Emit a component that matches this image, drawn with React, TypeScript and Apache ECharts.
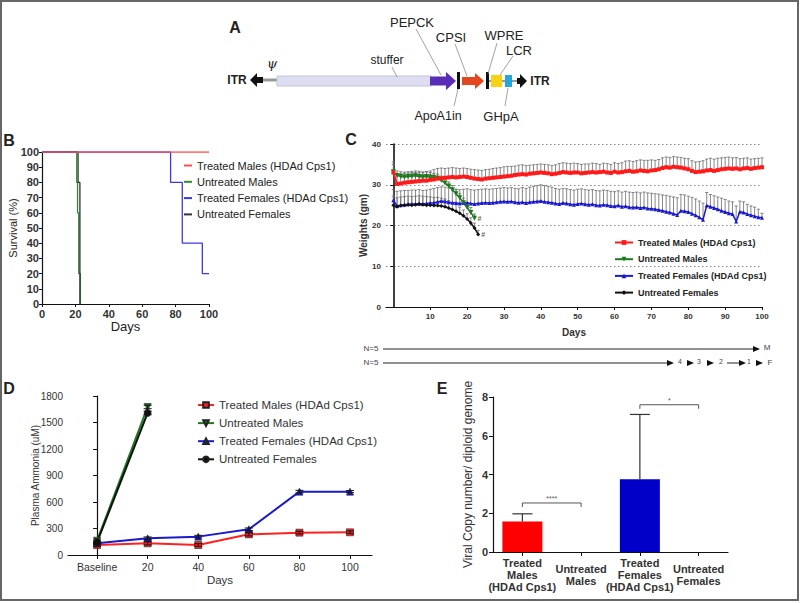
import React, { useEffect, useRef } from 'react';
import * as echarts from 'echarts';

const FONT = '"Liberation Sans", Arial, Helvetica, sans-serif';

const groupNames = ['Treated Males (HDAd Cps1)', 'Untreated Males', 'Treated Females (HDAd Cps1)', 'Untreated Females'];

// ---------- Panel B: survival (%) step curves, [day, percent] ----------
const survTreatedMales = [[0, 100], [100, 100]];
const survUntreatedMales = [[0, 100], [20.8, 80], [21.3, 60], [22, 20], [23, 0]];
const survTreatedFemales = [[0, 100], [77, 80], [84, 40], [96, 20], [100, 20]];
const survUntreatedFemales = [[0, 100], [21.6, 80], [22.7, 0]];

// ---------- Panel C: weights (gm), one value per day from day 0 ----------
const wTreatedMales = [
  33.0, 30.2, 30.3, 30.5, 30.6, 30.7, 30.8, 30.9, 31.0, 31.0, 31.2,
  31.3, 31.5, 31.6, 31.7, 31.8, 31.9, 31.8, 31.9, 32.0, 31.9,
  31.7, 31.5, 31.4, 31.3, 31.5, 31.6, 31.7, 31.8, 31.9, 32.0,
  32.1, 32.2, 32.4, 32.5, 32.6, 32.5, 32.7, 32.8, 32.9, 33.0,
  32.9, 32.8, 32.6, 32.7, 32.9, 33.1, 33.0, 32.9, 33.0, 33.0,
  32.8, 32.9, 33.0, 33.1, 33.0, 33.1, 33.2, 33.0, 32.9, 33.2,
  33.0, 33.1, 33.3, 33.4, 33.2, 33.3, 33.5, 33.4, 33.3, 33.5,
  33.6, 33.8, 34.1, 34.3, 34.2, 34.4, 34.3, 34.2, 34.0, 33.8,
  33.4, 33.1, 33.2, 33.3, 33.5, 33.6, 33.4, 33.6, 33.8, 33.9,
  34.0, 33.9, 34.0, 33.8, 34.0, 34.1, 33.9, 34.1, 34.2, 34.3,
];
const wTreatedMalesTop = [
  35.0, 32.6, 32.7, 32.8, 32.9, 33.0, 33.0, 33.1, 33.1, 33.2, 33.4,
  33.7, 34.0, 34.1, 34.0, 34.1, 34.2, 34.1, 34.0, 34.1, 34.0,
  33.8, 33.7, 33.6, 33.5, 33.7, 33.8, 34.0, 34.1, 34.2, 34.4,
  34.5, 34.5, 34.6, 34.8, 34.9, 34.7, 34.8, 34.9, 35.0, 35.1,
  35.0, 34.9, 34.7, 34.9, 35.2, 35.4, 35.3, 35.2, 35.3, 35.2,
  35.0, 35.1, 35.1, 35.3, 35.2, 35.0, 35.3, 35.2, 35.0, 35.4,
  35.2, 35.4, 35.8, 35.9, 35.7, 35.9, 36.1, 36.0, 36.0, 36.1,
  36.0, 36.2, 36.6, 36.8, 36.7, 36.9, 36.8, 36.7, 36.5, 36.4,
  35.9, 35.6, 35.7, 35.9, 36.3, 36.5, 36.3, 36.5, 36.6, 36.7,
  36.8, 36.6, 36.7, 36.4, 36.5, 36.6, 36.3, 36.4, 36.5, 36.6,
];
const wUntreatedMales = [
  33.2, 32.3, 32.0, 31.9, 32.0, 32.1, 32.2, 32.0, 31.9, 32.0, 31.9,
  31.8, 31.6, 31.1, 30.4, 29.7, 28.8, 27.8, 26.8, 25.6, 24.4, 23.2, 21.8,
];
const wUntreatedMalesTop = [
  35.6, 33.4, 33.2, 33.1, 33.2, 33.3, 33.4, 33.3, 33.1, 33.2, 33.0,
  32.8, 32.6, 32.1, 31.4, 30.7, 29.8, 28.8, 27.8, 26.7, 25.6, 24.4, 22.8,
];
const wTreatedFemales = [
  26.2, 24.8, 25.0, 25.1, 25.2, 25.3, 25.3, 25.4, 25.3, 25.4, 25.5,
  25.6, 25.8, 26.0, 25.9, 25.7, 25.6, 25.5, 25.4, 25.5, 25.6,
  25.4, 25.3, 25.4, 25.5, 25.6, 25.5, 25.6, 25.7, 25.8, 25.9,
  25.8, 25.9, 25.7, 25.6, 25.7, 25.5, 25.7, 25.8, 25.9, 26.0,
  25.8, 25.7, 25.6, 25.4, 25.3, 25.5, 25.4, 25.2, 25.1, 25.3,
  25.4, 25.2, 25.1, 25.2, 25.0, 24.9, 25.1, 25.0, 24.8, 24.7,
  24.9, 24.6, 24.7, 24.5, 24.4, 24.5, 24.3, 24.4, 24.2, 24.1,
  24.0, 23.8, 23.6, 23.4, 23.2, 22.9, 22.6, 23.6, 23.5, 23.3,
  22.9, 22.5, 22.0, 21.4, 24.9, 24.6, 24.3, 24.0, 23.6, 23.3,
  23.0, 22.8, 21.0, 23.4, 23.2, 22.8, 22.5, 22.3, 22.0, 21.9,
];
const wTreatedFemalesTop = [
  28.8, 28.4, 28.5, 28.6, 28.6, 28.7, 28.7, 28.8, 28.6, 28.7, 28.9,
  29.1, 29.3, 29.5, 29.4, 29.2, 29.0, 28.9, 28.8, 28.9, 29.0,
  28.8, 28.7, 28.8, 28.9, 29.0, 28.9, 29.0, 29.1, 29.2, 29.3,
  29.2, 29.3, 29.1, 29.0, 29.3, 29.1, 29.4, 29.6, 29.8, 30.0,
  29.8, 29.6, 29.4, 29.1, 28.9, 29.1, 29.0, 28.8, 28.7, 28.9,
  29.0, 28.8, 28.7, 28.8, 28.6, 28.5, 28.7, 28.6, 28.4, 28.3,
  28.5, 28.2, 28.4, 28.2, 28.1, 28.2, 28.0, 28.2, 28.0, 27.9,
  27.8, 27.7, 27.5, 27.4, 27.2, 27.0, 26.8, 27.6, 27.5, 27.2,
  26.9, 26.5, 26.0, 25.5, 28.1, 27.6, 27.3, 27.0, 26.7, 26.4,
  26.0, 25.8, 24.8, 26.0, 25.8, 25.2, 24.8, 24.5, 24.0, 23.0,
];
const wUntreatedFemales = [
  25.0, 24.6, 24.9, 25.0, 25.1, 25.0, 25.1, 25.2, 25.1, 25.0, 25.0,
  24.9, 24.9, 24.8, 24.6, 24.3, 23.9, 23.5, 23.0, 22.4, 21.6, 20.6, 19.4, 17.8,
];
const wUntreatedFemalesTop = [
  27.2, 26.8, 27.0, 27.1, 27.2, 27.1, 27.2, 27.3, 27.2, 27.1, 27.0,
  26.9, 26.9, 26.7, 26.5, 26.1, 25.6, 25.1, 24.5, 23.8, 22.9, 21.9, 20.6, 18.8,
];
const weightDayTicks = [10, 20, 30, 40, 50, 60, 70, 80, 90, 100];

// ---------- Panel D: plasma ammonia (uM) ----------
const ammoniaDays = [0, 20, 40, 60, 80, 100];
const ammoniaDayLabels = ['Baseline', '20', '40', '60', '80', '100'];
const nh3TreatedMales = [113, 132, 113, 234, 253, 257];
const nh3UntreatedMales = [162, 1676];
const nh3TreatedFemales = [132, 189, 208, 291, 717, 717];
const nh3UntreatedFemales = [145, 1608];
const nh3TreatedMalesErr = [15, 18, 15, 18, 15, 15];
const nh3UntreatedMalesErr = [18, 20];
const nh3TreatedFemalesErr = [12, 15, 15, 15, 15, 12];
const nh3UntreatedFemalesErr = [15, 20];

// ---------- Panel E: viral copy number ----------
const viralCats = ['Treated\nMales\n(HDAd Cps1)', 'Untreated\nMales', 'Treated\nFemales\n(HDAd Cps1)', 'Untreated\nFemales'];
const viralMeans = [1.57, 0, 3.75, 0];
const viralTop = [1.97, 0, 7.1, 0];
const viralSigPairs = [[0, 1, 2.53], [2, 3, 7.6]];
const viralSigText = ['****', '*'];

const stripPrefix = (name: string) => name.split('|')[1];

function errRender(color: string, cap: number, lw: number, capLow: boolean) {
  return (params: any, api: any) => {
    const x = api.value(0);
    const lo = api.value(1);
    const hi = api.value(2);
    if (!(hi > lo)) return null;
    const a = api.coord([x, lo]);
    const b = api.coord([x, hi]);
    const children: any[] = [
      { type: 'line', shape: { x1: a[0], y1: a[1], x2: b[0], y2: b[1] }, style: { stroke: color, lineWidth: lw } },
      { type: 'line', shape: { x1: b[0] - cap, y1: b[1], x2: b[0] + cap, y2: b[1] }, style: { stroke: color, lineWidth: lw } },
    ];
    if (capLow) {
      children.push({ type: 'line', shape: { x1: a[0] - cap, y1: a[1], x2: a[0] + cap, y2: a[1] }, style: { stroke: color, lineWidth: lw } });
    }
    return { type: 'group', children };
  };
}

export default function App() {
  const ref = useRef<HTMLDivElement>(null);
  useEffect(() => {
    if (!ref.current) return;
    const chart = echarts.init(ref.current, null, { renderer: 'svg' });

    const axisLine = { show: true, lineStyle: { color: '#111', width: 1.2 } };
    const tick = (len: number) => ({ show: true, length: len, inside: false, lineStyle: { color: '#111', width: 1 } });

    const colB = ['#ff5050', '#2e8b2e', '#3a3ae0', '#333333'];
    const colC = ['#ff1a1a', '#1e7a1e', '#1a1acc', '#111111'];
    const colD = ['#ff2020', '#1e7a1e', '#1a1acc', '#111111'];
    const symC = ['rect', 'triangle', 'triangle', 'diamond'];
    const rotC = [0, 180, 0, 0];
    const symD = ['rect', 'triangle', 'triangle', 'circle'];

    const survData = [survTreatedMales, survUntreatedMales, survTreatedFemales, survUntreatedFemales];
    const survOrder = [1, 3, 2, 0];
    const bSeries = survOrder.map((i) => ({
      name: 'B|' + groupNames[i],
      type: 'line',
      xAxisIndex: 0,
      yAxisIndex: 0,
      step: 'end',
      showSymbol: false,
      symbol: 'none',
      data: survData[i],
      lineStyle: { color: colB[i], width: 1.3 },
      itemStyle: { color: colB[i] },
      z: 3 + survOrder.indexOf(i),
    }));

    const wMeans = [wTreatedMales, wUntreatedMales, wTreatedFemales, wUntreatedFemales];
    const wTops = [wTreatedMalesTop, wUntreatedMalesTop, wTreatedFemalesTop, wUntreatedFemalesTop];
    const cErr = [0, 2, 1, 3].map((i) => ({
      name: 'Cerr' + i,
      type: 'custom',
      xAxisIndex: 1,
      yAxisIndex: 1,
      renderItem: errRender('#6a6a6a', 1.6, 0.8, false),
      encode: { x: 0, y: [1, 2] },
      data: wMeans[i].map((v, d) => [d, v, wTops[i][d]]),
      z: 2,
      silent: true,
    }));
    const cLines = [2, 3, 1, 0].map((i) => ({
      name: 'C|' + groupNames[i],
      type: 'line',
      xAxisIndex: 1,
      yAxisIndex: 1,
      symbol: symC[i],
      symbolRotate: rotC[i],
      symbolSize: i === 1 ? 5 : 4,
      showSymbol: true,
      data: wMeans[i].map((v, d) => [d, v]),
      lineStyle: { color: colC[i], width: i === 0 ? 2 : 1.5 },
      itemStyle: { color: colC[i] },
      z: 4,
    }));
    const cHash = {
      name: 'Chash',
      type: 'scatter',
      xAxisIndex: 1,
      yAxisIndex: 1,
      symbolSize: 0,
      data: [
        [wUntreatedMales.length - 1, wUntreatedMales[wUntreatedMales.length - 1]],
        [wUntreatedFemales.length - 1, wUntreatedFemales[wUntreatedFemales.length - 1]],
      ],
      label: { show: true, position: 'right', distance: 3, formatter: '#', fontSize: 7, fontWeight: 'bold', color: '#333', fontFamily: FONT },
      silent: true,
    };

    const nh3 = [nh3TreatedMales, nh3UntreatedMales, nh3TreatedFemales, nh3UntreatedFemales];
    const nh3Err = [nh3TreatedMalesErr, nh3UntreatedMalesErr, nh3TreatedFemalesErr, nh3UntreatedFemalesErr];
    const dLines = [0, 2, 1, 3].map((i) => ({
      name: 'D|' + groupNames[i],
      type: 'line',
      xAxisIndex: 2,
      yAxisIndex: 2,
      symbol: symD[i],
      symbolRotate: i === 1 ? 180 : 0,
      symbolSize: 7,
      showSymbol: true,
      data: nh3[i].map((v, k) => [ammoniaDays[k], v]),
      lineStyle: { color: colD[i], width: 2 },
      itemStyle: { color: colD[i], borderColor: '#222', borderWidth: 0.6 },
      z: 4,
    }));
    const dErr = [0, 1, 2, 3].map((i) => ({
      name: 'Derr' + i,
      type: 'custom',
      xAxisIndex: 2,
      yAxisIndex: 2,
      renderItem: errRender('#111', 4, 1, true),
      encode: { x: 0, y: [1, 2] },
      data: nh3[i].map((v, k) => [ammoniaDays[k], v - nh3Err[i][k], v + nh3Err[i][k]]),
      z: 5,
      silent: true,
    }));

    const eBars = {
      name: 'Ebar',
      type: 'bar',
      xAxisIndex: 3,
      yAxisIndex: 3,
      barWidth: 40,
      data: viralMeans.map((v, k) => ({ value: v, itemStyle: { color: k < 2 ? '#ff0000' : '#0000c8' } })),
      z: 2,
    };
    const eErr = {
      name: 'Eerr',
      type: 'custom',
      xAxisIndex: 3,
      yAxisIndex: 3,
      renderItem: errRender('#333', 10, 1.2, false),
      encode: { x: 0, y: [1, 2] },
      data: viralMeans.map((v, k) => [k, v, viralTop[k]]),
      z: 3,
      silent: true,
    };
    const eSig = {
      name: 'Esig',
      type: 'custom',
      xAxisIndex: 3,
      yAxisIndex: 3,
      renderItem: (params: any, api: any) => {
        const a = api.coord([api.value(0), api.value(2)]);
        const b = api.coord([api.value(1), api.value(2)]);
        const drop = 4;
        return {
          type: 'group',
          children: [
            {
              type: 'polyline',
              shape: { points: [[a[0], a[1] + drop], [a[0], a[1]], [b[0], b[1]], [b[0], b[1] + drop]] },
              style: { stroke: '#555', lineWidth: 1, fill: 'none' },
            },
            {
              type: 'text',
              x: (a[0] + b[0]) / 2,
              y: a[1] - 1,
              style: { text: viralSigText[params.dataIndex], fill: '#555', fontSize: 7, fontFamily: FONT, align: 'center', verticalAlign: 'bottom' },
            },
          ],
        };
      },
      encode: { x: [0, 1], y: 2 },
      data: viralSigPairs,
      z: 3,
      silent: true,
    };

    // ---------- Panel A diagram & annotations ----------
    const gray = '#8a8a8a';
    const leader = (x1: number, y1: number, x2: number, y2: number) => ({
      type: 'line', shape: { x1, y1, x2, y2 }, style: { stroke: gray, lineWidth: 0.8 },
    });
    const label = (text: string, x: number, y: number, size: number, extra: any = {}) => ({
      type: 'text', x, y,
      style: { text, fill: '#222', fontSize: size, fontFamily: FONT, align: 'center', verticalAlign: 'middle', ...extra },
    });

    const graphic: any[] = [
      { type: 'rect', shape: { x: 1, y: 1, width: 797, height: 599 }, style: { fill: 'none', stroke: '#666', lineWidth: 2 }, z: 100 },
      // panel letters
      label('A', 235, 27, 16, { fontWeight: 'bold' }),
      label('B', 9, 140, 16, { fontWeight: 'bold' }),
      label('C', 351, 139, 16, { fontWeight: 'bold' }),
      label('D', 9, 388, 16, { fontWeight: 'bold' }),
      label('E', 442, 388, 16, { fontWeight: 'bold' }),
      // construct
      label('ITR', 237, 80, 12, { fontWeight: 'bold' }),
      { type: 'polygon', shape: { points: [[250, 80], [257, 73], [257, 77], [263, 77], [263, 83], [257, 83], [257, 87]] }, style: { fill: '#111' } },
      { type: 'line', shape: { x1: 263, y1: 80, x2: 278, y2: 80 }, style: { stroke: '#999', lineWidth: 3 } },
      { type: 'rect', shape: { x: 277, y: 76, width: 154, height: 10 }, style: { fill: '#dedef2', stroke: '#c4c4d8', lineWidth: 1 } },
      { type: 'polygon', shape: { points: [[430, 76.5], [446, 76.5], [446, 72], [456, 81], [446, 90], [446, 85.5], [430, 85.5]] }, style: { fill: '#5a2db8' } },
      { type: 'rect', shape: { x: 457, y: 72, width: 3, height: 17 }, style: { fill: '#111' } },
      { type: 'polygon', shape: { points: [[462, 77], [475, 77], [475, 73], [484, 81], [475, 89], [475, 85], [462, 85]] }, style: { fill: '#e4461e' } },
      { type: 'rect', shape: { x: 486, y: 72, width: 3, height: 17 }, style: { fill: '#111' } },
      { type: 'line', shape: { x1: 489, y1: 81, x2: 518, y2: 81 }, style: { stroke: '#999', lineWidth: 2 } },
      { type: 'rect', shape: { x: 491, y: 75, width: 11, height: 12 }, style: { fill: '#f6d316' } },
      { type: 'rect', shape: { x: 505, y: 75, width: 7, height: 12 }, style: { fill: '#27a6dc' } },
      { type: 'polygon', shape: { points: [[517, 78], [520, 78], [520, 74], [527, 81], [520, 88], [520, 84], [517, 84]] }, style: { fill: '#111' } },
      label('ITR', 540, 81, 12, { fontWeight: 'bold' }),
      label('\u03C8', 272, 63, 13, { fontStyle: 'italic', fontFamily: 'DejaVu Serif, serif' }),
      label('stuffer', 387, 60, 12),
      label('PEPCK', 412, 22, 13),
      label('CPSI', 451, 37, 13),
      label('WPRE', 504, 35, 13),
      label('LCR', 519, 50, 13),
      label('ApoA1in', 438, 116, 12.5),
      label('GHpA', 501, 116, 13),
      leader(392, 67, 397, 77),
      leader(416, 29, 441, 75),
      leader(455, 44, 467, 76),
      leader(497, 43, 488, 74),
      leader(513, 56, 500, 75),
      leader(454, 106, 458, 89),
      leader(505, 106, 508, 88),
      // N= survivors arrows
      label('N=5', 371, 348, 8, { fill: '#444' }),
      { type: 'line', shape: { x1: 383, y1: 349, x2: 754, y2: 349 }, style: { stroke: '#222', lineWidth: 1 } },
      { type: 'polygon', shape: { points: [[753, 346], [760, 349], [753, 352]] }, style: { fill: '#111' } },
      label('M', 767, 347, 8, { fill: '#444' }),
      label('N=5', 371, 362, 8, { fill: '#444' }),
      { type: 'line', shape: { x1: 383, y1: 363, x2: 668, y2: 363 }, style: { stroke: '#222', lineWidth: 1 } },
      { type: 'polygon', shape: { points: [[667, 360], [674, 363], [667, 366]] }, style: { fill: '#111' } },
      label('4', 680, 361, 7, { fill: '#444' }),
      { type: 'polygon', shape: { points: [[687, 360], [694, 363], [687, 366]] }, style: { fill: '#111' } },
      label('3', 699, 361, 7, { fill: '#444' }),
      { type: 'polygon', shape: { points: [[707, 360], [714, 363], [707, 366]] }, style: { fill: '#111' } },
      label('2', 721, 361, 7, { fill: '#444' }),
      { type: 'line', shape: { x1: 727, y1: 363, x2: 740, y2: 363 }, style: { stroke: '#222', lineWidth: 1 } },
      { type: 'polygon', shape: { points: [[739, 360], [746, 363], [739, 366]] }, style: { fill: '#111' } },
      label('1', 749, 361, 7, { fill: '#444' }),
      { type: 'polygon', shape: { points: [[756, 360], [763, 363], [756, 366]] }, style: { fill: '#111' } },
      label('F', 770, 362, 8, { fill: '#444' }),
    ];

    const option: any = {
      animation: false,
      backgroundColor: '#fff',
      textStyle: { fontFamily: FONT },
      grid: [
        { left: 42, top: 152, width: 167, height: 152, outerBoundsMode: 'none' },
        { left: 386, top: 144, width: 376, height: 163, outerBoundsMode: 'none' },
        { left: 68, top: 396, width: 304, height: 159, outerBoundsMode: 'none' },
        { left: 493, top: 397, width: 235, height: 155, outerBoundsMode: 'none' },
      ],
      legend: [
        {
          data: groupNames.map((n) => 'B|' + n), formatter: stripPrefix, orient: 'vertical', left: 184, top: 160,
          padding: 0, itemGap: 5.3, itemWidth: 8, itemHeight: 2, icon: 'rect', selectedMode: false,
          textStyle: { fontSize: 11, color: '#222', fontFamily: FONT },
        },
        {
          data: groupNames.map((n) => 'C|' + n), formatter: stripPrefix, orient: 'vertical', left: 614, top: 238,
          padding: 0, itemGap: 7.7, itemWidth: 18, itemHeight: 6, selectedMode: false,
          textStyle: { fontSize: 9, color: '#222', fontWeight: 'bold', fontFamily: FONT },
        },
        {
          data: groupNames.map((n) => 'D|' + n), formatter: stripPrefix, orient: 'vertical', left: 197, top: 399,
          padding: 0, itemGap: 6.1, itemWidth: 16, itemHeight: 7, selectedMode: false,
          textStyle: { fontSize: 11.5, color: '#333', fontFamily: FONT },
        },
      ],
      xAxis: [
        {
          gridIndex: 0, type: 'value', min: 0, max: 100, interval: 20,
          axisLine, axisTick: tick(3), splitLine: { show: false },
          axisLabel: { fontSize: 11, fontWeight: 'bold', color: '#333', margin: 4, fontFamily: FONT },
          name: 'Days', nameLocation: 'middle', nameGap: 16, nameMoveOverlap: false,
          nameTextStyle: { fontSize: 13, color: '#222', fontFamily: FONT },
        },
        {
          gridIndex: 1, type: 'value', min: -2, max: 100,
          axisLine, axisTick: { ...tick(3), customValues: weightDayTicks }, splitLine: { show: false },
          axisLabel: { customValues: weightDayTicks, fontSize: 8, fontWeight: 'bold', color: '#333', margin: 5, fontFamily: FONT },
          name: 'Days', nameLocation: 'middle', nameGap: 20, nameMoveOverlap: false,
          nameTextStyle: { fontSize: 10, fontWeight: 'bold', color: '#333', fontFamily: FONT },
        },
        {
          gridIndex: 2, type: 'value', min: -11.5, max: 108.7,
          axisLine, axisTick: { ...tick(4), customValues: ammoniaDays }, splitLine: { show: false },
          axisLabel: {
            customValues: ammoniaDays, fontSize: 10.5, color: '#333', margin: 6, fontFamily: FONT,
            formatter: (v: number) => ammoniaDayLabels[ammoniaDays.indexOf(v)] ?? String(v),
          },
          name: 'Days', nameLocation: 'middle', nameGap: 19, nameMoveOverlap: false,
          nameTextStyle: { fontSize: 11.5, color: '#333', fontFamily: FONT },
        },
        {
          gridIndex: 3, type: 'category', data: viralCats,
          axisLine, axisTick: { ...tick(4), alignWithLabel: true },
          axisLabel: { interval: 0, fontSize: 11, fontWeight: 'bold', color: '#333', lineHeight: 12, verticalAlign: 'middle', margin: 23, fontFamily: FONT },
        },
      ],
      yAxis: [
        {
          gridIndex: 0, type: 'value', min: 0, max: 100, interval: 10,
          axisLine, axisTick: tick(3), splitLine: { show: false },
          axisLabel: { fontSize: 11, fontWeight: 'bold', color: '#333', margin: 3, fontFamily: FONT },
          name: 'Survival (%)', nameLocation: 'middle', nameGap: 24, nameMoveOverlap: false,
          nameTextStyle: { fontSize: 11, color: '#222', fontFamily: FONT },
        },
        {
          gridIndex: 1, type: 'value', min: 0, max: 40, interval: 10,
          axisLine: { show: true, lineStyle: { color: '#111', width: 1.6 } }, axisTick: tick(3),
          splitLine: { show: true, lineStyle: { color: '#888', type: [1.5, 2.5], width: 1 } },
          axisLabel: { fontSize: 8, fontWeight: 'bold', color: '#333', margin: 5, fontFamily: FONT },
          name: 'Weights (gm)', nameLocation: 'middle', nameGap: 18, nameMoveOverlap: false,
          nameTextStyle: { fontSize: 10, fontWeight: 'bold', color: '#333', fontFamily: FONT },
        },
        {
          gridIndex: 2, type: 'value', min: 0, max: 1800, interval: 300,
          axisLine, axisTick: tick(4), splitLine: { show: false },
          axisLabel: { fontSize: 10, color: '#333', margin: 5, fontFamily: FONT, formatter: (v: number) => String(v) },
          name: 'Plasma Ammonia (uM)', nameLocation: 'middle', nameGap: 28, nameMoveOverlap: false,
          nameTextStyle: { fontSize: 10, color: '#333', fontFamily: FONT },
        },
        {
          gridIndex: 3, type: 'value', min: 0, max: 8, interval: 2,
          axisLine, axisTick: tick(4), splitLine: { show: false },
          axisLabel: { fontSize: 11, fontWeight: 'bold', color: '#333', margin: 5, fontFamily: FONT },
          name: 'Viral Copy number/ diploid genome', nameLocation: 'middle', nameGap: 19, nameMoveOverlap: false,
          nameTextStyle: { fontSize: 12, color: '#333', fontFamily: FONT },
        },
      ],
      series: [...bSeries, ...cErr, ...cLines, cHash, ...dLines, ...dErr, eBars, eErr, eSig],
      graphic,
    };

    chart.setOption(option);
    return () => chart.dispose();
  }, []);

  return <div ref={ref} style={{ position: 'absolute', left: 0, top: 0, width: 800, height: 603 }} />;
}
